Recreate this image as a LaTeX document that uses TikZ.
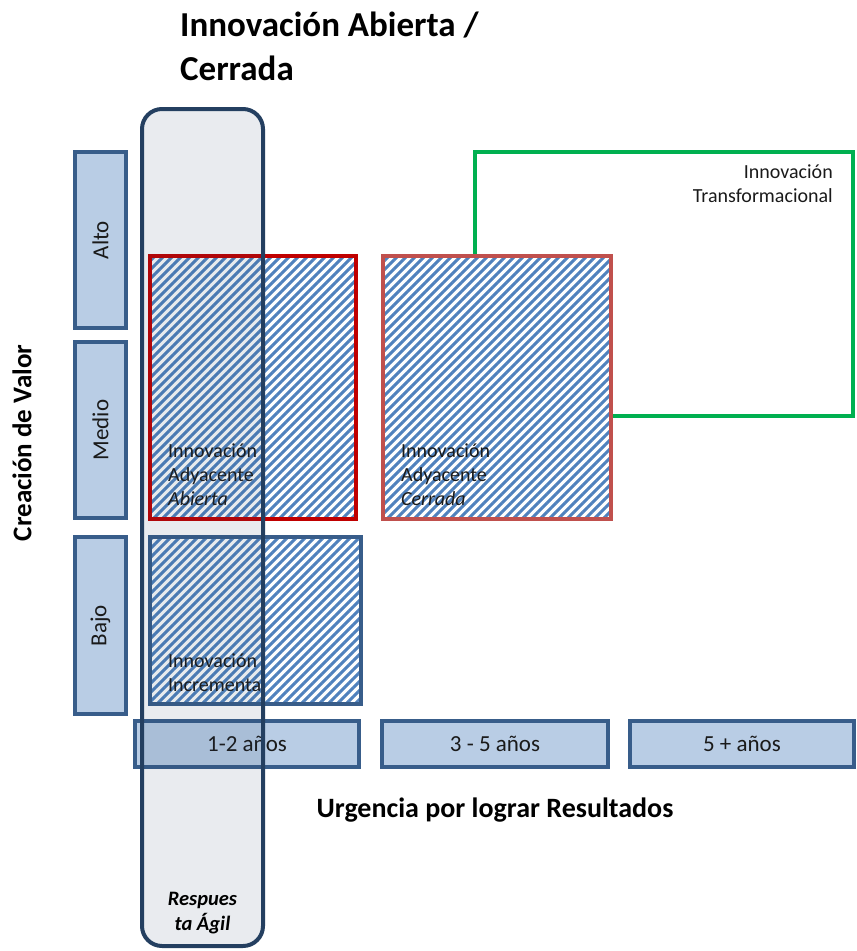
\documentclass[tikz,border=0pt]{standalone}
\usepackage{fontspec}
\setmainfont{Carlito}
\usetikzlibrary{patterns.meta}
\definecolor{boxfill}{HTML}{B9CDE5}
\definecolor{boxline}{HTML}{385D8A}
\definecolor{stripe}{HTML}{4F81BD}
\definecolor{redA}{HTML}{C00000}
\definecolor{redC}{HTML}{C0504D}
\definecolor{greenT}{HTML}{00B050}
\definecolor{navy}{HTML}{243F60}
\definecolor{txt}{HTML}{1A1A1A}
\newcommand\myfs[1]{\fontsize{#1}{#1}\selectfont}
\tikzset{
  valbox/.style={draw=boxline, fill=boxfill, line width=4pt, inner sep=0, text=txt, font=\myfs{23}},
  hatchbox/.style={preaction={fill=white}, pattern={Lines[angle=45,distance=6.364pt,line width=2.9pt]}, pattern color=stripe, line width=4pt, inner sep=0},
  lbl/.style={inner sep=0, text=txt, font=\myfs{20}},
  bold/.style={inner sep=0, text=black, font=\bfseries\myfs{#1}}
}
\begin{document}
\begin{tikzpicture}[x=1pt,y=-1pt]
\useasboundingbox (0,0) rectangle (857,951);
% title
\node[bold=35, anchor=base west] (t1) at (180,36) {Innovación Abierta /};
\node[bold=35, anchor=base west] (t2) at (180,80) {Cerrada};
% axis labels
\node[bold=27, rotate=90] (yax) at (22,443) {Creación de Valor};
\node[bold=28, anchor=base] (xax) at (495,817) {Urgencia por lograr Resultados};
% value boxes
\node[valbox, rotate=90, minimum width=176, minimum height=51] (alto) at (100.5,240) {Alto};
\node[valbox, rotate=90, minimum width=176, minimum height=51] (medio) at (100.5,430) {Medio};
\node[valbox, rotate=90, minimum width=177, minimum height=51] (bajo) at (100.5,625.5) {Bajo};
% year boxes
\node[valbox, minimum width=224, minimum height=46] (y12) at (247,744) {1-2 años};
\node[valbox, minimum width=226, minimum height=46] (y35) at (495,744) {3 - 5 años};
\node[valbox, minimum width=224, minimum height=46] (y5) at (742,744) {5 + años};
% green box
\node[draw=greenT, line width=4pt, minimum width=378, minimum height=264, inner sep=0] (trans) at (664,284) {};
\node[lbl, anchor=base east] (tr1) at (833,178) {Innovación};
\node[lbl, anchor=base east] (tr2) at (833,202) {Transformacional};
% hatched boxes
\node[hatchbox, draw=redA, minimum width=206, minimum height=263] (abierta) at (253,387.5) {};
\node[hatchbox, draw=redC, minimum width=228, minimum height=263] (cerrada) at (497,387.5) {};
\node[hatchbox, draw=boxline, minimum width=211, minimum height=167] (incr) at (255.5,620.5) {};
\node[lbl, anchor=base west] (a1) at (168,457) {Innovación};
\node[lbl, anchor=base west] (a2) at (168,481) {Adyacente};
\node[lbl, anchor=base west] (a3) at (168,505) {\itshape Abierta};
\node[lbl, anchor=base west] (c1) at (401,457) {Innovación};
\node[lbl, anchor=base west] (c2) at (401,481) {Adyacente};
\node[lbl, anchor=base west] (c3) at (401,505) {\itshape Cerrada};
\node[lbl, anchor=base west] (i1) at (168,667) {Innovación};
\node[lbl, anchor=base west] (i2) at (168,691) {Incrementa};
% agile column
\node[draw=navy, fill=navy, fill opacity=0.1, line width=4pt, rounded corners=20, minimum width=121, minimum height=837, inner sep=0] (agil) at (202.5,527.5) {};
\node[bold=20.5, anchor=base, font=\bfseries\itshape\myfs{20.5}] (r1) at (202.5,905) {Respues};
\node[bold=20.5, anchor=base, font=\bfseries\itshape\myfs{20.5}] (r2) at (202.5,930) {ta Ágil};
\end{tikzpicture}
\end{document}
